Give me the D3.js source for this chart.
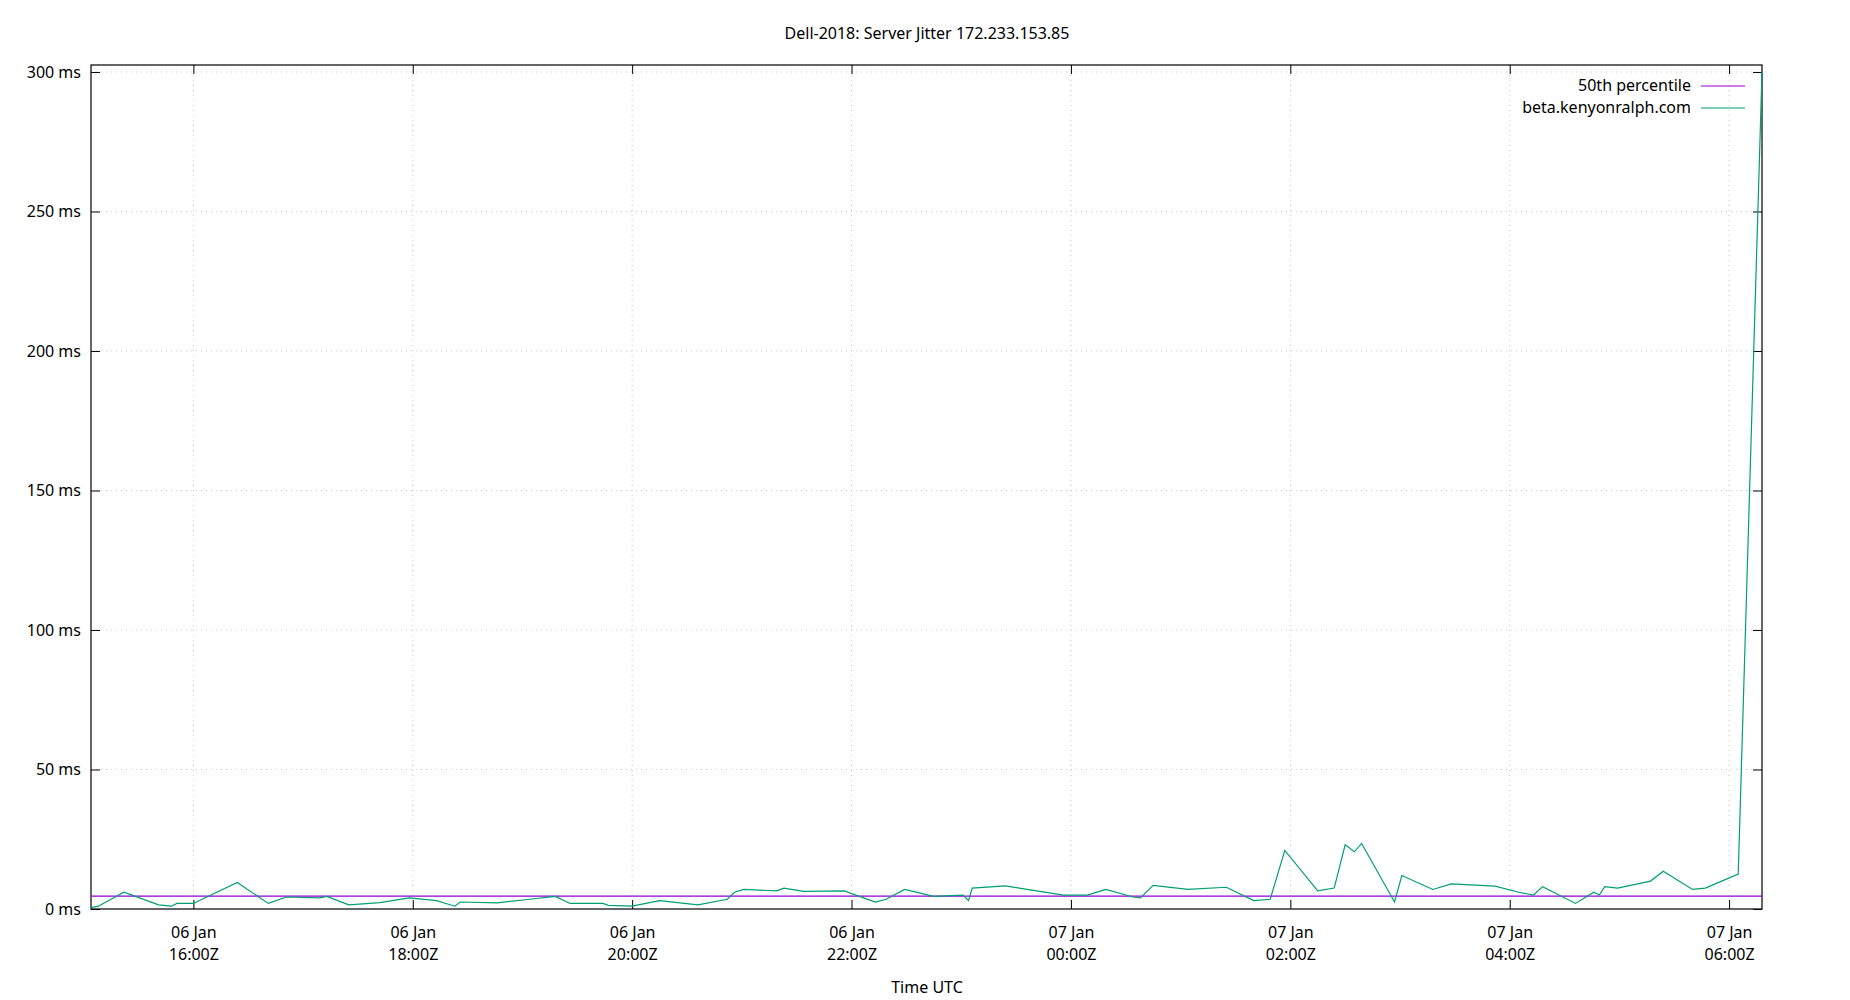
<!DOCTYPE html>
<html>
<head>
<meta charset="utf-8">
<script src="https://cdn.jsdelivr.net/npm/d3@7"></script>
<style>
body { margin: 0; background: #fff; }
text { font-family: "Noto Sans", "DejaVu Sans", sans-serif; fill: #000; }
</style>
</head>
<body>
<svg id="chart" width="1850" height="1000"></svg>
<script>
// minutes after 06 Jan 16:00Z
let minutes = [-56, -52, -38, -19, -12, -9, 0, 24, 41, 51, 69, 73, 85, 102, 118, 133, 143, 146, 166, 184,
    198, 206, 224, 227, 240, 255, 276, 292, 296, 301, 319, 323, 334, 356, 373, 379, 389, 405, 421, 424,
    426, 444, 476, 489, 499, 514, 518, 525, 544, 565, 580, 589, 597, 615, 624, 630, 635, 639, 657, 661,
    678, 688, 712, 725, 733, 738, 756, 766, 769, 772, 779, 797, 804, 820, 827, 845, 858];
let jitter = [0.5, 1, 6, 1.5, 1, 2, 2, 9.5, 2, 4.3, 4, 4.5, 1.5, 2.3, 4, 3, 1, 2.5, 2.2, 3.5,
    4.5, 2, 2, 1.3, 1, 3, 1.5, 3.5, 6, 7, 6.5, 7.5, 6.3, 6.5, 2.5, 3.5, 7, 4.5, 5, 3,
    7.5, 8.3, 5, 5, 7, 4.3, 4, 8.5, 7, 7.8, 3, 3.5, 21, 6.5, 7.5, 23, 20.5, 23.5, 2.5, 12,
    7, 9, 8.2, 6, 5, 8, 2, 6, 5, 8, 7.5, 10, 13.5, 7, 7.5, 12.5, 300];
let median = 4.6;
let yTicks = [0, 50, 100, 150, 200, 250, 300];
let seriesNames = ["50th percentile", "beta.kenyonralph.com"];
let seriesColors = ["#9400d3", "#009e73"];

let base = Date.UTC(2018, 0, 6, 16, 0);
let data = minutes.map((m, i) => ({ t: new Date(base + m * 60000), v: jitter[i] }));

let svg = d3.select("#chart");
let pL = 91, pR = 1762, pT = 65, pB = 909;

let x = d3.scaleUtc()
    .domain([new Date(base - 56 * 60000), new Date(base + 858 * 60000)])
    .range([pL, pR]);
let y = d3.scaleLinear().domain([0, 302.5]).range([pB, pT]);
let xTicks = d3.range(0, 8).map(i => new Date(base + i * 120 * 60000));

// grid
svg.append("g").selectAll("line").data(yTicks.slice(1)).join("line")
    .attr("x1", pL).attr("x2", pR).attr("y1", d => y(d)).attr("y2", d => y(d))
    .attr("stroke", "#c8c8c8").attr("stroke-dasharray", "1,4");
svg.append("g").selectAll("line").data(xTicks).join("line")
    .attr("x1", d => x(d)).attr("x2", d => x(d)).attr("y1", pT).attr("y2", pB)
    .attr("stroke", "#c8c8c8").attr("stroke-dasharray", "1,4");

// axes (inward ticks, mirrored)
let fmtDay = d3.utcFormat("%d %b"), fmtTime = d3.utcFormat("%H:%MZ");
let ax = svg.append("g").attr("transform", `translate(0,${pB})`)
    .call(d3.axisBottom(x).tickValues(xTicks).tickSize(-9).tickFormat(""));
ax.select(".domain").remove();
ax.selectAll(".tick").append("text").attr("y", 29).attr("text-anchor", "middle")
    .style("font-size", "16px").text(d => fmtDay(d));
ax.selectAll(".tick").append("text").attr("y", 51).attr("text-anchor", "middle")
    .style("font-size", "16px").text(d => fmtTime(d));
svg.append("g").attr("transform", `translate(0,${pT})`)
    .call(d3.axisTop(x).tickValues(xTicks).tickSize(-9).tickFormat(""))
    .select(".domain").remove();
let ay = svg.append("g").attr("transform", `translate(${pL},0)`)
    .call(d3.axisLeft(y).tickValues(yTicks).tickSize(-9).tickPadding(10).tickFormat(d => d + " ms"));
ay.select(".domain").remove();
ay.selectAll("text").style("font-size", "16px").style("font-family", "'Noto Sans', sans-serif");
svg.append("g").attr("transform", `translate(${pR},0)`)
    .call(d3.axisRight(y).tickValues(yTicks).tickSize(-9).tickFormat(""))
    .select(".domain").remove();
svg.selectAll(".tick line").attr("stroke", "#000");

svg.append("rect").attr("x", pL).attr("y", pT).attr("width", pR - pL).attr("height", pB - pT)
    .attr("fill", "none").attr("stroke", "#000").attr("stroke-width", 1.2);

// series
svg.append("line").attr("x1", pL).attr("x2", pR).attr("y1", y(median)).attr("y2", y(median))
    .attr("stroke", seriesColors[0]).attr("stroke-width", 1.2);
svg.append("path").datum(data)
    .attr("d", d3.line().x(d => x(d.t)).y(d => y(d.v)))
    .attr("fill", "none").attr("stroke", seriesColors[1]).attr("stroke-width", 1.2);

// legend
seriesNames.forEach((name, i) => {
    let ly = 86 + i * 22;
    svg.append("text").attr("x", 1691).attr("y", ly + 5).attr("text-anchor", "end")
        .style("font-size", "16px").text(name);
    svg.append("line").attr("x1", 1701).attr("x2", 1745).attr("y1", ly).attr("y2", ly)
        .attr("stroke", seriesColors[i]).attr("stroke-width", 1.2);
});

// titles
svg.append("text").attr("x", 927).attr("y", 39).attr("text-anchor", "middle")
    .style("font-size", "16px").text("Dell-2018: Server Jitter 172.233.153.85");
svg.append("text").attr("x", 927).attr("y", 993).attr("text-anchor", "middle")
    .style("font-size", "16px").text("Time UTC");
</script>
</body>
</html>
